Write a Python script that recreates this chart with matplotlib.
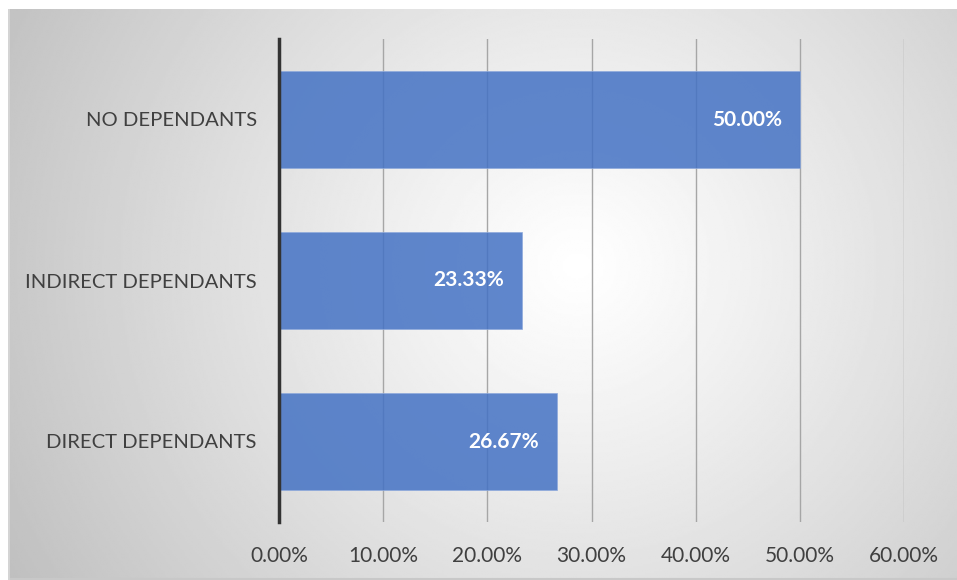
import numpy as np
import matplotlib
matplotlib.use("Agg")
import matplotlib.pyplot as plt
from matplotlib.ticker import PercentFormatter

categories = ["DIRECT DEPENDANTS", "INDIRECT DEPENDANTS", "NO DEPENDANTS"]
values = [26.67, 23.33, 50.00]
xticks = [0, 10, 20, 30, 40, 50, 60]

plt.rcParams["font.family"] = ["Lato", "DejaVu Sans"]

W, H = 957, 580
fig = plt.figure(figsize=(W / 100, H / 100), dpi=100)
fig.patch.set_facecolor("white")

# Radial grey-to-white backdrop behind the chart area
bg = fig.add_axes([8 / W, 0, (W - 8) / W, (H - 9) / H])
bg.set_axis_off()
ny, nx = 300, 500
yy, xx = np.mgrid[0:1:ny * 1j, 0:1:nx * 1j]
cx, cy = 0.6, 0.45
r = np.sqrt(((xx - cx) * 1.6) ** 2 + (yy - cy) ** 2)
r = r / r.max()
shade = 1.0 - 0.25 * r ** 1.1
bg.imshow(shade, cmap="gray", vmin=0, vmax=1, aspect="auto",
          extent=[0, 1, 1, 0], interpolation="bilinear")
bg.set_xlim(0, 1)
bg.set_ylim(1, 0)
bg.plot([0, 1], [0.001, 0.001], color="#c8c8c8", lw=1.5, transform=bg.transAxes)
bg.plot([0.001, 0.001], [0, 1], color="#d4d4d4", lw=1.5, transform=bg.transAxes)

ax = fig.add_axes([279 / W, (H - 522) / H, (904 - 279) / W, (522 - 39) / H])
ax.patch.set_alpha(0)

y = np.arange(len(categories))
ax.barh(y, values, height=0.6, color="#4472C4", alpha=0.85,
        edgecolor="#8faadc", linewidth=0.6, zorder=3)

for yi, v in zip(y, values):
    ax.annotate(f"{v:.2f}%", xy=(v, yi), xytext=(-18, 0),
                textcoords="offset pixels", ha="right", va="center",
                color="white", fontsize=15, fontweight="bold", zorder=4)

ax.set_xlim(0, 60)
ax.set_ylim(-0.5, len(categories) - 0.5)
ax.set_xticks(xticks)
ax.xaxis.set_major_formatter(PercentFormatter(decimals=2))
ax.set_yticks(y)
ax.set_yticklabels(categories)
ax.grid(axis="x", color="#a6a6a6", linewidth=1.0, zorder=0)
ax.tick_params(axis="both", length=0, colors="#404040")
ax.tick_params(axis="x", pad=17, labelsize=15)
ax.tick_params(axis="y", pad=16, labelsize=14.6)
for s in ["top", "right", "bottom"]:
    ax.spines[s].set_visible(False)
ax.spines["left"].set_color("#333333")
ax.spines["left"].set_linewidth(2.5)
ax.spines["left"].set_zorder(5)

fig.savefig("out.png", dpi=100)
